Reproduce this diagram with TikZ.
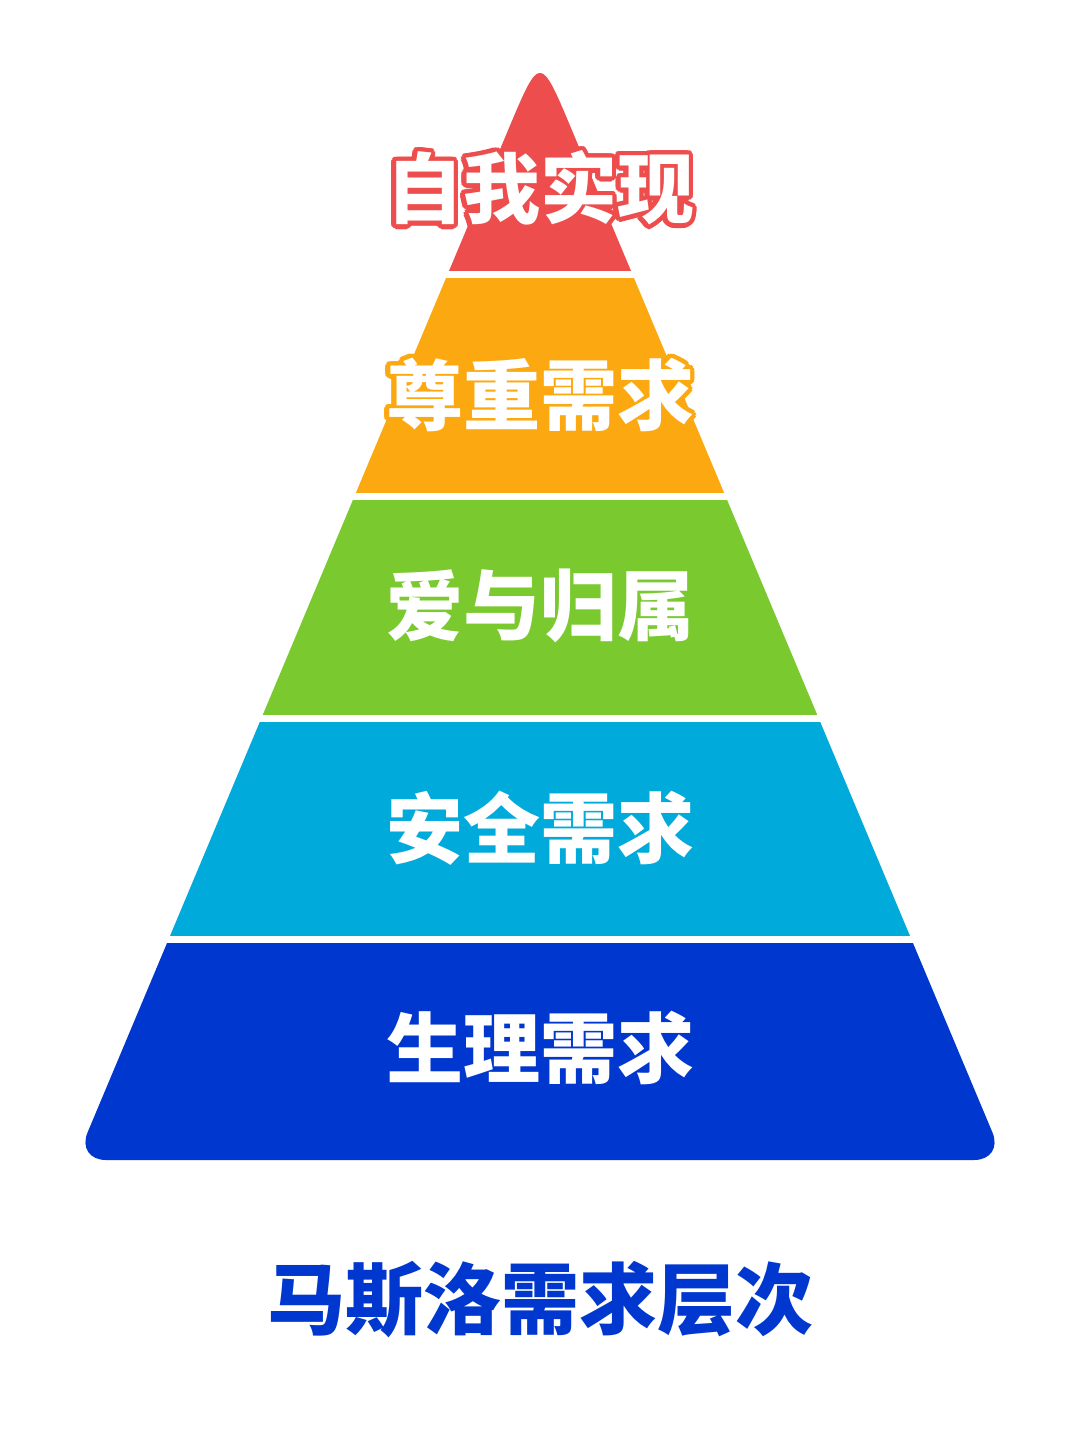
\documentclass[tikz,border=0pt]{standalone}
\usepackage{fontspec}
\newfontfamily\cjk{Noto Sans CJK SC}
\definecolor{cR}{HTML}{EE4D4D}
\definecolor{cO}{HTML}{FCA810}
\definecolor{cG}{HTML}{7AC92F}
\definecolor{cC}{HTML}{00AADB}
\definecolor{cB}{HTML}{0037CF}
\tikzset{lbl/.style={font=\cjk\bfseries\fontsize{77}{77}\selectfont,text=white,inner sep=0pt}}
\newcommand\olabel[4]{%
  \foreach \a in {0,20,...,340}{\node[lbl,text=#3,shift={(\a:4.5)}] at (#1) {#4};}
  \node[lbl] (#2) at (#1) {#4};}
\begin{document}
\begin{tikzpicture}[x=1pt,y=-1pt]
\useasboundingbox (0,0) rectangle (1080,1439);
\fill[white] (0,0) rectangle (1080,1439);
\begin{scope}
\clip (508.3,129.6) .. controls (540,54) .. (571.7,129.6) [rounded corners=30pt] -- (1004,1160) -- (76,1160) -- (508.3,129.6);
\fill[cR] (0,0) rectangle (1080,271);
\fill[cO] (0,278) rectangle (1080,493);
\fill[cG] (0,500) rectangle (1080,715);
\fill[cC] (0,722) rectangle (1080,936);
\fill[cB] (0,943) rectangle (1080,1200);
\end{scope}
\olabel{540,188}{l1}{cR}{自我实现}
\olabel{540,395}{l2}{cO}{尊重需求}
\node[lbl] (l3) at (540,606) {爱与归属};
\node[lbl] (l4) at (540,828) {安全需求};
\node[lbl] (l5) at (540,1048) {生理需求};
\node[lbl,text=cB,font=\cjk\bfseries\fontsize{78}{78}\selectfont] (title) at (540,1300) {马斯洛需求层次};
\end{tikzpicture}
\end{document}
